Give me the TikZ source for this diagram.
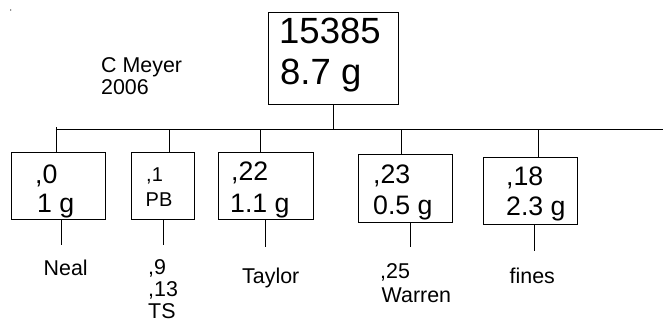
\documentclass[tikz,border=0pt]{standalone}
\usepackage{fontspec}
\setmainfont{Liberation Sans}
\begin{document}
\begin{tikzpicture}[x=1pt,y=-1pt,
  box/.style={draw, line width=1pt, rectangle, inner sep=0pt, anchor=north west},
  conn/.style={line width=1pt},
  txt/.style={inner sep=0pt, anchor=base west},
  huge36/.style={txt, font=\fontsize{36.5}{41}\selectfont},
  big26/.style={txt, font=\fontsize{26.7}{30}\selectfont},
  mid20/.style={txt, font=\fontsize{20}{23}\selectfont},
  lab21/.style={txt, font=\fontsize{21.4}{23}\selectfont}]
\useasboundingbox (0,0) rectangle (663,323);
% tiny dot
\node[circle, fill, inner sep=0.45pt] (dot) at (10.7,10) {};
% author
\node[lab21] (auth1) at (101,73) {C Meyer};
\node[lab21] (auth2) at (101,95) {2006};
% top box
\node[box, minimum width=130pt, minimum height=92pt] (top) at (268,12) {};
\node[huge36] (top1) at (279,44) {15385};
\node[huge36] (top2) at (280,85) {8.7 g};
% bus
\coordinate (busL) at (55.5,130);
\coordinate (busR) at (663,130);
\draw[conn] (busL) -- (busR);
\draw[conn] (top.south) -- (top.south |- busL);
% child boxes
\node[box, minimum width=94.3pt, minimum height=67pt] (b0) at (10.7,152) {};
\node[box, minimum width=63.3pt, minimum height=67pt] (b1) at (130.7,152) {};
\node[box, minimum width=95pt, minimum height=67pt] (b2) at (217.7,152) {};
\node[box, minimum width=94pt, minimum height=67.7pt] (b3) at (358,154) {};
\node[box, minimum width=94pt, minimum height=67pt] (b4) at (482.7,157) {};
% drops from bus
\coordinate (d0) at (56.2,127.5);
\coordinate (d1) at (169,130);
\coordinate (d2) at (260.7,130);
\coordinate (d3) at (401,130);
\coordinate (d4) at (538.7,130);
\draw[conn] (d0) -- (d0 |- b0.north);
\draw[conn] (d1) -- (d1 |- b1.north);
\draw[conn] (d2) -- (d2 |- b2.north);
\draw[conn] (d3) -- (d3 |- b3.north);
\draw[conn] (d4) -- (d4 |- b4.north);
% lines below boxes
\coordinate (e0) at (61.7,245);
\coordinate (e1) at (163,245);
\coordinate (e2) at (265.5,247);
\coordinate (e3) at (410,247);
\coordinate (e4) at (534,251);
\draw[conn] (e0 |- b0.south) -- (e0);
\draw[conn] (e1 |- b1.south) -- (e1);
\draw[conn] (e2 |- b2.south) -- (e2);
\draw[conn] (e3 |- b3.south) -- (e3);
\draw[conn] (e4 |- b4.south) -- (e4);
% box texts
\node[big26] (t0a) at (35,183) {,0};
\node[big26] (t0b) at (37,212) {1 g};
\node[mid20] (t1a) at (146,182) {,1};
\node[mid20] (t1b) at (145.5,206) {PB};
\node[big26] (t2a) at (231,180) {,22};
\node[big26] (t2b) at (230,212) {1.1 g};
\node[big26] (t3a) at (373,183) {,23};
\node[big26] (t3b) at (373,214.5) {0.5 g};
\node[big26] (t4a) at (506,185) {,18};
\node[big26] (t4b) at (506,215) {2.3 g};
% labels below
\node[lab21] (l0) at (43.5,275) {Neal};
\node[lab21] (l1a) at (148,274) {,9};
\node[lab21] (l1b) at (148,296) {,13};
\node[lab21] (l1c) at (148,318.5) {TS};
\node[lab21] (l2) at (242,283) {Taylor};
\node[lab21] (l3a) at (380,278) {,25};
\node[lab21] (l3b) at (381.5,302) {Warren};
\node[lab21] (l4) at (509.5,283) {fines};
\end{tikzpicture}
\end{document}
